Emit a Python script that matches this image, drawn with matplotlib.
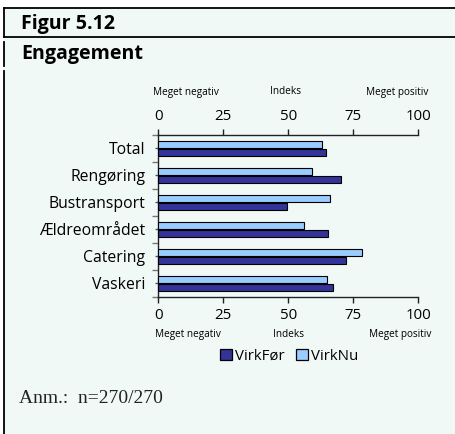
import matplotlib
matplotlib.use("Agg")
import matplotlib.pyplot as plt
from matplotlib.patches import Rectangle
from matplotlib.lines import Line2D
import numpy as np

categories = ["Total", "Rengøring", "Bustransport", "Ældreområdet", "Catering", "Vaskeri"]
virk_foer = [64.4, 70.1, 49.4, 65.1, 72.2, 67.1]
virk_nu = [63.1, 59.2, 66.2, 56.2, 78.2, 65.0]
xticks = [0, 25, 50, 75, 100]
series_names = ["VirkFør", "VirkNu"]
colors = ["#333399", "#99ccff"]

W, H = 456, 434
DPI = 100
fig = plt.figure(figsize=(W / DPI, H / DPI), dpi=DPI)
fig.patch.set_facecolor("white")

def fx(x):
    return x / W

def fy(y):
    return 1 - y / H

BG = "#f1f9f6"
# background panel
fig.patches.append(Rectangle((fx(4), 0), 1 - fx(4), fy(8), transform=fig.transFigure,
                             facecolor=BG, edgecolor="none", zorder=-5))
lw = 1.3
for (x0, y0, x1, y1) in [(4, 8, 456, 8), (4, 37, 456, 37), (4, 8, 4, 37), (4, 42, 4, 66), (4, 71, 4, 434)]:
    fig.lines.append(Line2D([fx(x0), fx(x1)], [fy(y0), fy(y1)], transform=fig.transFigure,
                            color="black", lw=lw, zorder=-4))

title_font = ["Open Sans", "DejaVu Sans"]
fig.text(fx(21), fy(23.5), "Figur 5.12", fontsize=14.1, fontweight="bold", family=title_font,
         va="center", ha="left")
fig.text(fx(21), fy(53.5), "Engagement", fontsize=14.1, fontweight="bold", family=title_font,
         va="center", ha="left")

# axes
left, right, top, bottom = 158.3, 418.3, 134.7, 296.7
ax = fig.add_axes([fx(left), fy(bottom), fx(right - left), (bottom - top) / H])
ax.set_zorder(2)
ax.patch.set_alpha(0)

y = np.arange(len(categories))
h = 0.27
ax.barh(y - 0.148, virk_nu, height=h, color=colors[1], edgecolor="black", linewidth=0.8, label=series_names[1], zorder=3)
ax.barh(y + 0.148, virk_foer, height=h, color=colors[0], edgecolor="black", linewidth=0.8, label=series_names[0], zorder=3)

ax.set_xlim(0, 100)
ax.set_ylim(len(categories) - 0.5, -0.5)
ax.set_xticks(xticks)
ax.set_xticklabels([str(v) for v in xticks])
ax.set_yticks(y)
ax.set_yticklabels(categories)
ax.set_yticks(np.arange(-0.5, len(categories), 1.0), minor=True)

ax.spines["right"].set_visible(False)
for s in ["left", "top", "bottom"]:
    ax.spines[s].set_color("#222222")
    ax.spines[s].set_linewidth(1.0)

tick_font = ["Open Sans", "DejaVu Sans"]
ax.tick_params(axis="x", which="major", top=True, labeltop=True, bottom=True, labelbottom=True,
               direction="out", length=4, width=1.0, color="#222222", pad=4, labelsize=10.8)
ax.tick_params(axis="y", which="major", left=True, direction="out", length=2.5, width=1.0,
               color="#555555", pad=7, labelsize=11.3)
ax.tick_params(axis="y", which="minor", left=True, direction="out", length=4.5, width=1.0,
               color="#777777")
for lab in ax.get_xticklabels() + ax.get_yticklabels():
    lab.set_family(tick_font)

small = 7.2
fig.text(fx(153), fy(92), "Meget negativ", fontsize=small, family=tick_font, ha="left", va="center")
fig.text(fx(286), fy(92), "Indeks", fontsize=small, family=tick_font, ha="center", va="center")
fig.text(fx(428), fy(92), "Meget positiv", fontsize=small, family=tick_font, ha="right", va="center")
fig.text(fx(155), fy(334.5), "Meget negativ", fontsize=small, family=tick_font, ha="left", va="center")
fig.text(fx(288.7), fy(334.5), "Indeks", fontsize=small, family=tick_font, ha="center", va="center")
fig.text(fx(431.7), fy(334.5), "Meget positiv", fontsize=small, family=tick_font, ha="right", va="center")

# legend
handles = [Rectangle((0, 0), 1, 1, facecolor=colors[0], edgecolor="black", linewidth=0.9),
           Rectangle((0, 0), 1, 1, facecolor=colors[1], edgecolor="black", linewidth=0.9)]
leg = fig.legend(handles, series_names, loc="center", bbox_to_anchor=(fx(289.5), fy(356.5)),
                 ncol=2, frameon=False, handlelength=0.75, handleheight=0.75, handletextpad=0.25,
                 columnspacing=0.75, prop={"family": tick_font, "size": 10.8}, borderpad=0)

fig.text(fx(19.5), fy(398.5), "Anm.:  n=270/270", fontsize=14, family=["Liberation Serif", "DejaVu Serif"],
         ha="left", va="center", color="#222222")

fig.savefig("out.png", dpi=DPI, facecolor=fig.get_facecolor())
